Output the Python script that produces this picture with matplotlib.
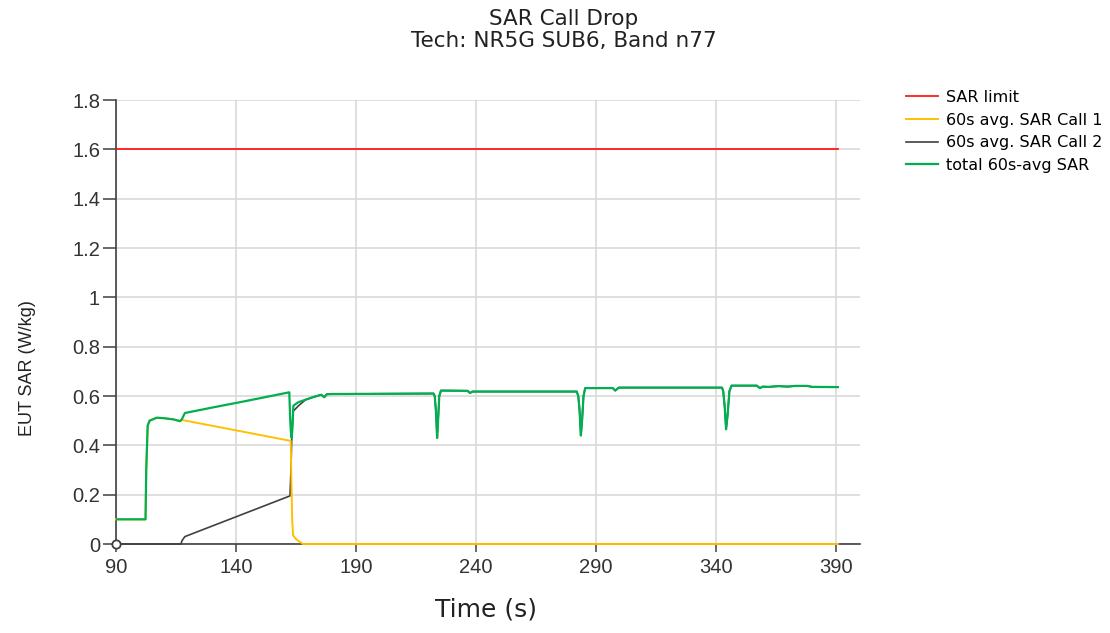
import matplotlib
matplotlib.use('Agg')
import matplotlib.pyplot as plt

plt.rcParams['font.family'] = ['Liberation Sans', 'DejaVu Sans']

# SAR limit
limit_t = [90, 390.8]
limit_v = [1.6, 1.6]

# 60s avg. SAR Call 1
call1_t = [90, 102.3, 102.6, 103.2, 104, 107, 110, 114, 116.7, 117.4,
           162.8, 163.1, 163.4, 163.8, 165, 167, 168, 390.8]
call1_v = [0.1, 0.1, 0.3, 0.48, 0.5, 0.512, 0.51, 0.505, 0.498, 0.503,
           0.418, 0.25, 0.1, 0.035, 0.02, 0.006, 0.0, 0.0]

# total 60s-avg SAR
total_t = [90, 102.3, 102.6, 103.2, 104, 107, 110, 114, 116.7, 117.4,
           118.7, 130, 141.7, 152, 162.2, 162.6, 162.9, 163.2, 163.5, 163.9,
           164.5, 166, 169, 172, 175.5, 176.8, 177.8, 180, 200, 222.3,
           222.8, 223.3, 223.8, 224.2, 224.7, 225.4, 236.5, 237.5, 238.5, 282,
           282.6, 283.1, 283.7, 284.2, 284.8, 285.5, 297, 298, 299.5, 342.5,
           343.0, 343.6, 344.2, 344.8, 345.6, 346.5, 357, 358.3, 359.5, 362,
           366, 370, 373, 378, 380, 390.8]
total_v = [0.1, 0.1, 0.3, 0.48, 0.5, 0.512, 0.51, 0.505, 0.498, 0.505,
           0.531, 0.553, 0.575, 0.595, 0.615, 0.5, 0.45, 0.43, 0.47, 0.56,
           0.565, 0.575, 0.585, 0.595, 0.605, 0.595, 0.607, 0.608, 0.609, 0.61,
           0.6, 0.54, 0.43, 0.5, 0.6, 0.622, 0.621, 0.612, 0.618, 0.618,
           0.6, 0.55, 0.44, 0.5, 0.6, 0.632, 0.632, 0.622, 0.634, 0.634,
           0.62, 0.56, 0.465, 0.52, 0.62, 0.642, 0.642, 0.632, 0.638, 0.637,
           0.64, 0.638, 0.641, 0.641, 0.637, 0.636]

# 60s avg. SAR Call 2 (same as total once call 1 has dropped)
call2_t = [90, 117.0, 117.6, 118.7, 162.5, 162.9, 163.2, 163.6, 163.9,
           164.5, 166] + total_t[22:]
call2_v = [0.0, 0.0, 0.015, 0.03, 0.195, 0.3, 0.42, 0.5, 0.54,
           0.545, 0.56] + total_v[22:]

GRID = '#d9d9d9'
SPINE = '#404040'

fig = plt.figure(figsize=(11.1, 6.33), dpi=100)
ax = fig.add_axes([116 / 1110, 1 - 544 / 633, 744 / 1110, 444 / 633])

ax.plot(limit_t, limit_v, color='#ff1a1a', lw=1.3, label='SAR limit', zorder=3)
ax.plot(call1_t, call1_v, color='#ffc000', lw=1.4, label='60s avg. SAR Call 1',
        zorder=5, clip_on=False)
ax.plot(call2_t, call2_v, color='#404040', lw=1.2, label='60s avg. SAR Call 2',
        zorder=4, clip_on=False)
ax.plot(total_t, total_v, color='#00b050', lw=1.6, label='total 60s-avg SAR', zorder=6)
ax.plot([90], [0], marker='o', ms=6, mfc='white', mec=SPINE, mew=1.3,
        clip_on=False, zorder=7)

ax.set_xlim(90, 400)
ax.set_ylim(0, 1.8)
ax.set_xticks([90, 140, 190, 240, 290, 340, 390])
ax.set_yticks([0, 0.2, 0.4, 0.6, 0.8, 1.0, 1.2, 1.4, 1.6, 1.8])
ax.set_yticklabels(['0', '0.2', '0.4', '0.6', '0.8', '1', '1.2', '1.4', '1.6', '1.8'])
ax.grid(True, color=GRID, lw=1.2)
ax.set_axisbelow(True)
for s in ['top', 'right']:
    ax.spines[s].set_visible(False)
for s in ['left', 'bottom']:
    ax.spines[s].set_color(SPINE)
    ax.spines[s].set_linewidth(1.2)
ax.tick_params(axis='y', direction='out', length=9.5, width=1.1, color=SPINE,
               pad=2, labelsize=14.5, labelcolor='#333333')
ax.tick_params(axis='x', direction='out', length=6, width=1.1, color=SPINE,
               pad=4, labelsize=14.5, labelcolor='#333333')

fig.text(564 / 1110, 1 - 30 / 633, 'SAR Call Drop\nTech: NR5G SUB6, Band n77',
         ha='center', va='center', fontsize=15.5, linespacing=1.1,
         color='#222222', family='DejaVu Sans')
fig.text(486 / 1110, 1 - 610 / 633, 'Time (s)', ha='center', va='center',
         fontsize=18, color='#222222', family='DejaVu Sans')
fig.text(28 / 1110, 1 - 368 / 633, 'EUT SAR (W/kg)', ha='center', va='center',
         rotation=90, fontsize=13, color='#222222')

fig.legend(loc='upper left', bbox_to_anchor=(906 / 1110, 1 - 90 / 633),
           frameon=False, handlelength=2.0, handletextpad=0.5,
           labelspacing=0.48, borderpad=0, borderaxespad=0,
           prop={'family': 'DejaVu Sans', 'size': 11.5})

fig.savefig('out.png', dpi=100)
